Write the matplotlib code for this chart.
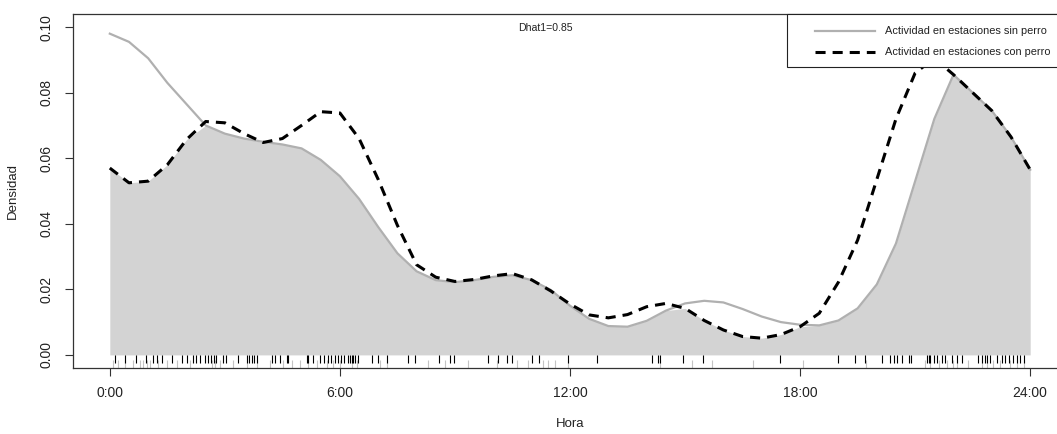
import numpy as np
import matplotlib
matplotlib.use('Agg')
import matplotlib.pyplot as plt
from matplotlib.lines import Line2D
from matplotlib.patches import Rectangle

plt.rcParams['font.family'] = ['Liberation Sans', 'DejaVu Sans']

# density curves, every half hour
hours = np.arange(0, 24.5, 0.5)
sin_perro = [0.0980, 0.0955, 0.0905, 0.0830, 0.0765, 0.0700, 0.0675, 0.0660, 0.0650, 0.0642,
             0.0630, 0.0595, 0.0545, 0.0476, 0.0390, 0.0310, 0.0255, 0.0228, 0.0222, 0.0228,
             0.0238, 0.0243, 0.0228, 0.0198, 0.0150, 0.0110, 0.0088, 0.0086, 0.0104, 0.0135,
             0.0157, 0.0165, 0.0160, 0.0140, 0.0117, 0.0100, 0.0092, 0.0090, 0.0105, 0.0142,
             0.0215, 0.0340, 0.0530, 0.0720, 0.0855, 0.0800, 0.0745, 0.0665, 0.0565]
con_perro = [0.0570, 0.0525, 0.0530, 0.0580, 0.0657, 0.0712, 0.0708, 0.0675, 0.0648, 0.0660,
             0.0700, 0.0742, 0.0738, 0.0660, 0.0535, 0.0395, 0.0275, 0.0237, 0.0224, 0.0230,
             0.0241, 0.0248, 0.0229, 0.0195, 0.0155, 0.0122, 0.0113, 0.0123, 0.0147, 0.0157,
             0.0142, 0.0105, 0.0076, 0.0056, 0.0051, 0.0062, 0.0086, 0.0127, 0.0222, 0.0350,
             0.0535, 0.0720, 0.0860, 0.0905, 0.0855, 0.0800, 0.0745, 0.0665, 0.0565]

# detection times (rug)
rug_con = [0.13, 0.39, 0.68, 0.94, 1.13, 1.23, 1.37, 1.63, 1.87, 2.02, 2.17, 2.26, 2.35, 2.48,
           2.56, 2.65, 2.72, 2.76, 2.96, 3.03, 3.35, 3.57, 3.63, 3.70, 3.76, 3.83, 4.22, 4.30,
           4.43, 4.61, 4.65, 5.13, 5.17, 5.30, 5.48, 5.58, 5.69, 5.78, 5.87, 5.96, 6.03, 6.11,
           6.20, 6.26, 6.31, 6.35, 6.39, 6.46, 6.83, 7.00, 7.22, 7.77, 7.96, 8.58, 8.87, 8.98,
           9.87, 10.11, 10.37, 10.48, 11.00, 11.19, 11.96, 12.70, 14.13, 14.29, 14.35, 14.94,
           15.48, 17.48, 19.00, 19.42, 19.70, 20.13, 20.35, 20.44, 20.52, 20.65, 20.84, 20.90,
           21.31, 21.35, 21.39, 21.48, 21.57, 21.70, 21.78, 21.96, 22.09, 22.22, 22.65, 22.74,
           22.83, 22.87, 22.96, 23.13, 23.26, 23.35, 23.44, 23.54, 23.66, 23.74, 23.85]
rug_sin = [0.08, 0.21, 0.39, 0.60, 0.78, 0.86, 0.97, 1.04, 1.25, 1.49, 1.75, 2.09, 2.66, 2.74,
           2.87, 3.21, 3.57, 3.83, 4.17, 4.51, 4.75, 4.96, 5.17, 5.40, 5.66, 5.82, 6.00, 6.31,
           6.44, 7.04, 7.22, 8.30, 8.74, 9.34, 10.10, 10.61, 10.91, 11.30, 11.43, 11.61, 11.95,
           14.35, 15.18, 15.70, 16.77, 18.07, 19.72, 21.26, 21.39, 21.61, 21.83, 22.00, 22.09,
           22.39, 22.74, 22.87, 23.04, 23.22, 23.48, 23.66, 23.83]

xticks = [0, 6, 12, 18, 24]
xtick_labels = ['0:00', '6:00', '12:00', '18:00', '24:00']
yticks = [0.00, 0.02, 0.04, 0.06, 0.08, 0.10]
labels = ['Actividad en estaciones sin perro', 'Actividad en estaciones con perro']

W, H = 1057, 434
fig = plt.figure(figsize=(W / 100, H / 100), dpi=100)
# plot region runs past the right edge of the picture, as in the reference
ax = fig.add_axes([73 / W, 1 - 368 / H, (1067 - 73) / W, (368 - 14) / H])

sin = np.array(sin_perro)
con = np.array(con_perro)
ax.fill_between(hours, 0, np.minimum(sin, con), color='#D3D3D3', lw=0, zorder=1)
ax.plot(hours, sin, color='#B0B0B0', lw=1.6, zorder=2)
ax.plot(hours, con, color='black', lw=2.2, dashes=(3.3, 2.3), zorder=3)

ax.vlines(rug_sin, -0.004, -0.0015, color='#C4C4C4', lw=0.8, clip_on=False, zorder=2)
ax.vlines(rug_con, -0.0025, 0.0, color='black', lw=0.8, clip_on=False, zorder=3)

ax.set_xlim(-0.96, 24.96)
ax.set_ylim(-0.004, 0.104)
ax.set_xticks(xticks)
ax.set_xticklabels(xtick_labels)
ax.set_yticks(yticks)
ax.set_yticklabels([f'{v:.2f}' for v in yticks], rotation=90, va='center')
ax.tick_params(axis='both', length=6, width=0.8, color='#333333', labelsize=10,
               labelcolor='#222222')
ax.tick_params(axis='y', pad=8)
ax.tick_params(axis='x', pad=7)
for sp in ax.spines.values():
    sp.set_color('#333333')
    sp.set_linewidth(0.9)

ax.set_xlabel('Hora', fontsize=9.5, color='#222222', labelpad=13)
ax.set_ylabel('Densidad', fontsize=9.5, color='#222222', labelpad=15)

ax.text(11.35, 0.0997, 'Dhat1=0.85', fontsize=7.6, ha='center', va='center', color='#222222')

# legend box in the top right corner (cut by the picture edge)
def fx(px):
    return px / W

def fy(py):
    return 1 - py / H

fig.add_artist(Rectangle((fx(787), fy(67)), fx(1080) - fx(787), fy(14) - fy(67),
                         transform=fig.transFigure, facecolor='white', edgecolor='#222222',
                         lw=0.8, zorder=10))
fig.add_artist(Line2D([fx(815), fx(875)], [fy(31), fy(31)], transform=fig.transFigure,
                      color='#B0B0B0', lw=1.6, zorder=11))
fig.add_artist(Line2D([fx(815), fx(875)], [fy(52), fy(52)], transform=fig.transFigure,
                      color='black', lw=2.2, dashes=(3.3, 2.3), zorder=11))
for lab, py in zip(labels, [31, 52]):
    fig.text(fx(885), fy(py), lab, fontsize=7.9, va='center', ha='left', color='#222222',
             zorder=12)

plt.savefig('out.png', dpi=100)
plt.close()
